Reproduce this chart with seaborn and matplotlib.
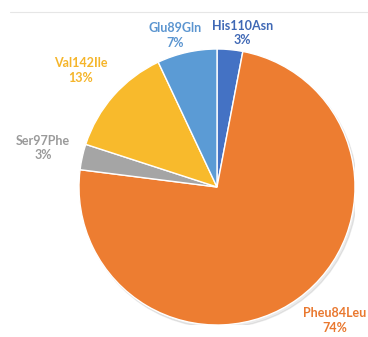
import matplotlib
matplotlib.use("Agg")
import matplotlib.pyplot as plt
import seaborn as sns
import numpy as np
from matplotlib.lines import Line2D

sns.set_theme(style="white")
plt.rcParams['font.family'] = ['Lato', 'DejaVu Sans']

labels = ["His110Asn", "Pheu84Leu", "Ser97Phe", "Val142Ile", "Glu89Gln"]
values = [3, 74, 3, 13, 7]
pct_labels = ["3%", "74%", "3%", "13%", "7%"]

colors = ["#4472C4", "#ED7D31", "#A5A5A5", "#F8BA2C", "#5B9BD5"]
label_colors = ["#3F68B5", "#E9782F", "#9A9A9A", "#F5B52A", "#5B95D0"]
label_radius = [1.13, 1.29, 1.29, 1.30, 1.14]
label_angle_shift = [-4, 5.4, 0, 1, 3]

W, H = 368, 337
fig = plt.figure(figsize=(W / 100, H / 100), dpi=100)
cx, cy, r = 217, 187, 138
ax = fig.add_axes([(cx - r) / W, (H - cy - r) / H, 2 * r / W, 2 * r / H])

# subtle shadow
shadow = plt.Circle((0.015, -0.02), 1.0, color="#000000", alpha=0.08, zorder=0)
ax.add_patch(shadow)

wedges, _ = ax.pie(values, colors=colors, startangle=90, counterclock=False,
                   radius=1.0, center=(0, 0),
                   wedgeprops=dict(linewidth=1.0, edgecolor="white"))
ax.set_xlim(-1, 1)
ax.set_ylim(-1, 1)
ax.set_aspect("equal")
ax.axis("off")

for w, lab, pct, lc, rr, sh in zip(wedges, labels, pct_labels, label_colors,
                                   label_radius, label_angle_shift):
    mid = np.deg2rad((w.theta1 + w.theta2) / 2 + sh)
    x, y = rr * np.cos(mid), rr * np.sin(mid)
    ax.text(x, y, f"{lab}\n{pct}", ha="center", va="center", color=lc,
            fontsize=9, fontweight="bold", linespacing=1.25, clip_on=False)

fig.add_artist(Line2D([10 / W, 1.0], [1 - 12 / H, 1 - 12 / H],
                      color="#E6E6E6", linewidth=0.8))

fig.savefig("out.png", dpi=100, facecolor="white")
